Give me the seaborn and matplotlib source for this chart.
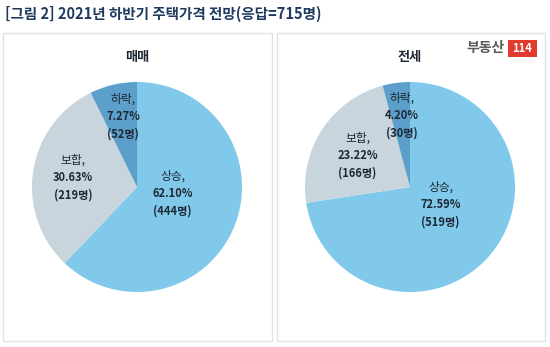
import matplotlib
matplotlib.use("Agg")
import matplotlib.pyplot as plt
import seaborn as sns
from matplotlib.patches import Rectangle

sns.set_theme(style="white")
plt.rcParams['font.family'] = ['Noto Sans CJK KR', 'DejaVu Sans']

# ---- data ----
title = "[그림 2] 2021년 하반기 주택가격 전망(응답=715명)"
panels = ["매매", "전세"]
categories = ["상승", "보합", "하락"]
sale_pct = [62.10, 30.63, 7.27]
sale_cnt = [444, 219, 52]
jeonse_pct = [72.59, 23.22, 4.20]
jeonse_cnt = [519, 166, 30]

# ---- styles / layout ----
colors = ["#80C9EA", "#C9D5DD", "#5D9FCB"]
text_color = "#1E2833"
W, H = 550, 347
centers = [(137, 187), (410, 187)]
R = 105
label_pos = [
    [(0.34, -0.06), (-0.61, 0.09), (-0.13, 0.67)],
    [(0.29, -0.17), (-0.50, 0.30), (-0.08, 0.68)],
]
panel_boxes = [(3, 33, 272, 341), (277, 33, 545, 341)]

fig = plt.figure(figsize=(W / 100, H / 100), dpi=100)
fig.patch.set_facecolor("white")

# panel borders
for (x0, y0, x1, y1) in panel_boxes:
    fig.patches.append(Rectangle((x0 / W, 1 - y1 / H), (x1 - x0) / W, (y1 - y0) / H,
                                 transform=fig.transFigure, fill=False,
                                 edgecolor="#E2E2E2", linewidth=1.0))

fig.text(5 / W, 1 - 14 / H, title, fontsize=10.5, fontweight="bold",
         color="#1F3A5F", ha="left", va="center")

datasets = [(sale_pct, sale_cnt), (jeonse_pct, jeonse_cnt)]
for i, (pcts, cnts) in enumerate(datasets):
    cx, cy = centers[i]
    ax = fig.add_axes([(cx - R) / W, 1 - (cy + R) / H, 2 * R / W, 2 * R / H])
    ax.pie(pcts, colors=colors, startangle=90, counterclock=False,
           radius=1, wedgeprops=dict(linewidth=0))
    ax.set_xlim(-1, 1)
    ax.set_ylim(-1, 1)
    ax.set_aspect("equal")
    ax.axis("off")
    for j, cat in enumerate(categories):
        lx, ly = label_pos[i][j]
        ax.text(lx, ly + 0.165, f"{cat},", ha="center", va="center",
                fontsize=8.5, color=text_color)
        ax.text(lx, ly, f"{pcts[j]:.2f}%", ha="center", va="center",
                fontsize=8, fontweight="bold", color=text_color)
        ax.text(lx, ly - 0.165, f"({cnts[j]}명)", ha="center", va="center",
                fontsize=8, fontweight="bold", color=text_color)
    fig.text(cx / W, 1 - 57 / H, panels[i], fontsize=9.5, fontweight="bold",
             color=text_color, ha="center", va="center")

# logo
fig.text(505 / W, 1 - 48 / H, "부동산", fontsize=10, fontweight="bold",
         color="#5A5A5A", ha="right", va="center")
fig.patches.append(Rectangle((508 / W, 1 - 57 / H), 29 / W, 17 / H,
                             transform=fig.transFigure, facecolor="#E23A2E",
                             edgecolor="none"))
fig.text(522.5 / W, 1 - 48.5 / H, "114", fontsize=8, fontweight="bold",
         color="white", ha="center", va="center")

fig.savefig("out.png", dpi=100)
